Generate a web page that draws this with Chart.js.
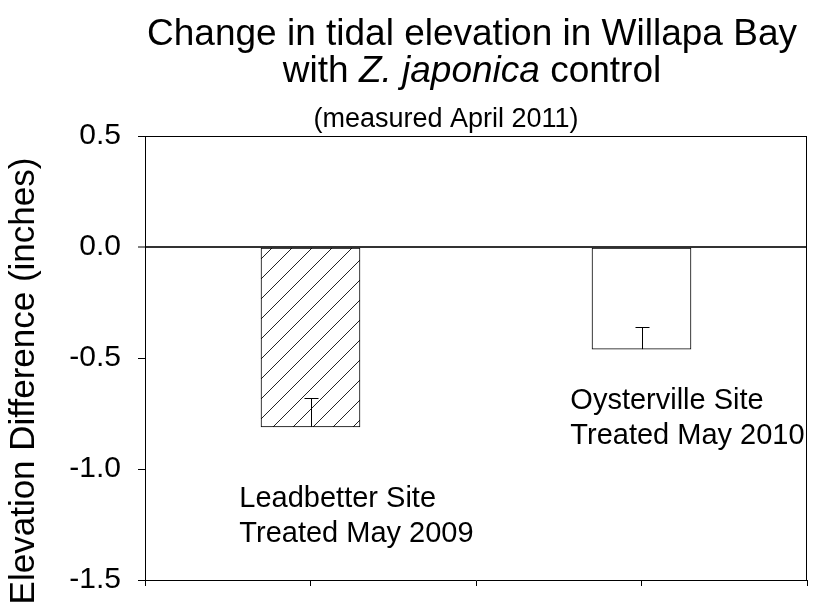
<!DOCTYPE html>
<html>
<head>
<meta charset="utf-8">
<script src="https://cdn.jsdelivr.net/npm/chart.js@4.4.0/dist/chart.umd.min.js"></script>
<style>
  html, body { margin: 0; padding: 0; background: #fff; }
  #wrap { width: 816px; height: 615px; }
</style>
</head>
<body>
<div id="wrap"><canvas id="chart" width="816" height="615"></canvas></div>
<script>
  // Data
  const sitePositions = [1, 3];
  const elevationDiff = [-0.81, -0.46];
  const errorUp = [0.13, 0.10];
  const siteLabels = [
    ['Leadbetter Site', 'Treated May 2009'],
    ['Oysterville Site', 'Treated May 2010']
  ];
  const yTicks = [-1.5, -1.0, -0.5, 0.0, 0.5];
  const titleLine1 = 'Change in tidal elevation in Willapa Bay';
  const titleLine2 = ['with ', 'Z. japonica', ' control'];
  const subTitle = '(measured April 2011)';
  const yTitle = 'Elevation Difference (inches)';

  const FONT = 'Arial, "Liberation Sans", sans-serif';

  // diagonal hatch for the first bar
  function hatchPattern() {
    const s = 20;
    const c = document.createElement('canvas');
    c.width = s; c.height = s;
    const g = c.getContext('2d');
    g.fillStyle = '#fff';
    g.fillRect(0, 0, s, s);
    g.strokeStyle = '#222';
    g.lineWidth = 1;
    g.beginPath();
    g.moveTo(-2, s + 2); g.lineTo(s + 2, -2);
    g.stroke();
    return g.createPattern(c, 'repeat');
  }

  // label placement (data coords of top-left of each text block)
  const labelPlace = [
    { x: 0.57, y: -1.07 },
    { x: 2.57, y: -0.63 }
  ];

  const titlePlugin = {
    id: 'titles',
    afterDraw(chart) {
      const ctx = chart.ctx;
      const cx = 472;
      ctx.save();
      ctx.fillStyle = '#000';
      ctx.textBaseline = 'alphabetic';
      ctx.textAlign = 'center';
      ctx.font = '37px ' + FONT;
      ctx.fillText(titleLine1, cx, 45);

      // second line: mixed upright / italic
      const fonts = ['37px ' + FONT, 'italic 37px ' + FONT, '37px ' + FONT];
      let total = 0;
      const widths = titleLine2.map((t, i) => {
        ctx.font = fonts[i];
        const w = ctx.measureText(t).width;
        total += w;
        return w;
      });
      let x = cx - total / 2;
      ctx.textAlign = 'left';
      titleLine2.forEach((t, i) => {
        ctx.font = fonts[i];
        ctx.fillText(t, x, 82);
        x += widths[i];
      });

      ctx.textAlign = 'center';
      ctx.font = '27px ' + FONT;
      ctx.fillText(subTitle, 446, 127);

      // y axis title
      ctx.translate(24, 381);
      ctx.rotate(-Math.PI / 2);
      ctx.textBaseline = 'middle';
      ctx.font = '35px ' + FONT;
      ctx.fillText(yTitle, 0, 0);
      ctx.restore();
    }
  };

  const framePlugin = {
    id: 'frame',
    afterDraw(chart) {
      const a = chart.chartArea;
      const ctx = chart.ctx;
      ctx.save();
      ctx.strokeStyle = '#000';
      ctx.lineWidth = 1;
      ctx.beginPath();
      ctx.moveTo(a.left, a.top + 0.5);
      ctx.lineTo(a.right, a.top + 0.5);
      ctx.moveTo(a.right - 0.5, a.top);
      ctx.lineTo(a.right - 0.5, a.bottom);
      ctx.stroke();
      ctx.restore();
    }
  };

  const errorPlugin = {
    id: 'errorbars',
    afterDatasetsDraw(chart) {
      const ctx = chart.ctx;
      const xs = chart.scales.x, ys = chart.scales.y;
      ctx.save();
      ctx.strokeStyle = '#000';
      ctx.lineWidth = 1;
      sitePositions.forEach((p, i) => {
        const x = Math.round(xs.getPixelForValue(p)) + 0.5;
        const y0 = ys.getPixelForValue(elevationDiff[i]);
        const y1 = Math.round(ys.getPixelForValue(elevationDiff[i] + errorUp[i])) + 0.5;
        ctx.beginPath();
        ctx.moveTo(x, y0);
        ctx.lineTo(x, y1);
        ctx.moveTo(x - 7, y1);
        ctx.lineTo(x + 7, y1);
        ctx.stroke();
      });
      ctx.restore();
    }
  };

  const labelPlugin = {
    id: 'siteLabels',
    afterDraw(chart) {
      const ctx = chart.ctx;
      const xs = chart.scales.x, ys = chart.scales.y;
      ctx.save();
      ctx.fillStyle = '#000';
      ctx.font = '29px ' + FONT;
      ctx.textAlign = 'left';
      ctx.textBaseline = 'top';
      siteLabels.forEach((lines, i) => {
        const x = xs.getPixelForValue(labelPlace[i].x);
        const y = ys.getPixelForValue(labelPlace[i].y);
        lines.forEach((t, j) => ctx.fillText(t, x, y + j * 35));
      });
      ctx.restore();
    }
  };

  new Chart(document.getElementById('chart'), {
    type: 'bar',
    data: {
      datasets: [{
        data: sitePositions.map((p, i) => ({ x: p, y: elevationDiff[i] })),
        backgroundColor: [hatchPattern(), '#fff'],
        borderColor: '#000',
        borderWidth: 1,
        borderSkipped: false,
        barThickness: 99
      }]
    },
    options: {
      responsive: false,
      animation: false,
      layout: { padding: { top: 136, right: 9, bottom: 0, left: 0 } },
      plugins: {
        legend: { display: false },
        tooltip: { enabled: false }
      },
      scales: {
        x: {
          type: 'linear',
          min: 0,
          max: 4,
          offset: false,
          afterFit: s => { s.height = 16; },
          ticks: { stepSize: 1, callback: () => '', font: { size: 1 } },
          grid: { offset: false, drawOnChartArea: false, tickLength: 6, tickColor: '#000', color: '#000' },
          border: { color: '#000', width: 1 }
        },
        y: {
          min: yTicks[0],
          max: yTicks[yTicks.length - 1],
          afterFit: s => { s.width = 145; },
          afterBuildTicks: s => { s.ticks = yTicks.map(v => ({ value: v })); },
          ticks: {
            callback: v => Number(v).toFixed(1),
            color: '#000',
            padding: 17,
            font: { family: FONT, size: 30 }
          },
          grid: {
            drawOnChartArea: true,
            color: c => (c.tick && c.tick.value === 0 ? '#333' : 'rgba(0,0,0,0)'),
            lineWidth: c => (c.tick && c.tick.value === 0 ? 2 : 1),
            tickColor: '#000',
            tickWidth: 1,
            tickLength: 7
          },
          border: { color: '#000', width: 1 }
        }
      }
    },
    plugins: [titlePlugin, framePlugin, errorPlugin, labelPlugin]
  });
</script>
</body>
</html>
